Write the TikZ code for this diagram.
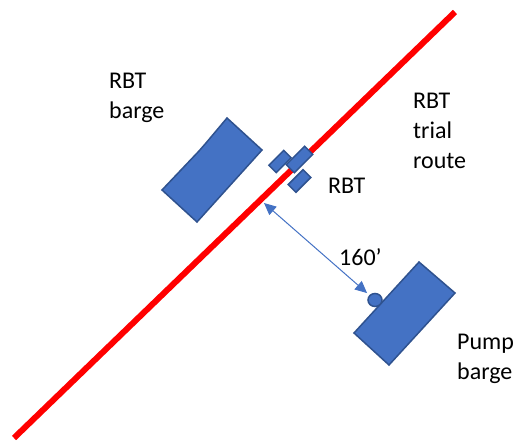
\documentclass[tikz,border=0pt]{standalone}
\usepackage{fontspec}
\setmainfont{Carlito}
\usetikzlibrary{arrows.meta,shapes.geometric}
\definecolor{hullblue}{HTML}{4472C4}
\definecolor{hulledge}{HTML}{2F528F}
\definecolor{routered}{HTML}{FF0000}
\begin{document}
\begin{tikzpicture}[x=1pt,y=-1pt,
  hull/.style={fill=hullblue,draw=hulledge,line width=1.5pt,line join=miter},
  piece/.style={hull,rectangle,inner sep=0pt,outer sep=0pt,rotate=45},
  lbl/.style={font=\fontsize{24}{30}\selectfont,inner sep=0pt,anchor=base west,align=left},
  measure/.style={hullblue,line width=1pt,>={Triangle[length=12pt,width=11pt]},<->}]
\useasboundingbox (0,0) rectangle (514,443);

% RBT barge
\path[hull] (162,190) -- (199,151) -- (206,143) -- (227,118) -- (262,150)
  -- (197,222) -- cycle;

% pump barge and its port
\path[hull] (419,262) -- (455,293) -- (389,365) -- (354,333) -- cycle;
\node[hull,ellipse,inner sep=0pt,minimum width=14pt,minimum height=13pt]
  (pumpport) at (375,300) {};

% trial route
\draw[routered,line width=6pt] (14,438) -- (455,12);

% RBT
\node[piece,minimum width=21pt,minimum height=10.5pt] (rbtleft) at (280,161.5) {};
\node[piece,minimum width=21pt,minimum height=11pt] (rbtlow) at (299.5,181) {};
\node[piece,minimum width=26pt,minimum height=11.5pt] (rbtmid) at (299.5,159.5) {};

% distance from route to pump
\coordinate (routemark) at (264,203);
\draw[measure,shorten >=3pt] (routemark) -- (pumpport);

% labels (anchored at the baseline of the last line)
\node[lbl] (lbarge) at (109,119) {RBT\\barge};
\node[lbl] (lroute) at (413,169) {RBT\\trial\\route};
\node[lbl] (lrbt) at (328,194) {RBT};
\node[lbl] (ldist) at (339,266) {160’};
\node[lbl] (lpump) at (457,380) {Pump\\barge};
\end{tikzpicture}
\end{document}
